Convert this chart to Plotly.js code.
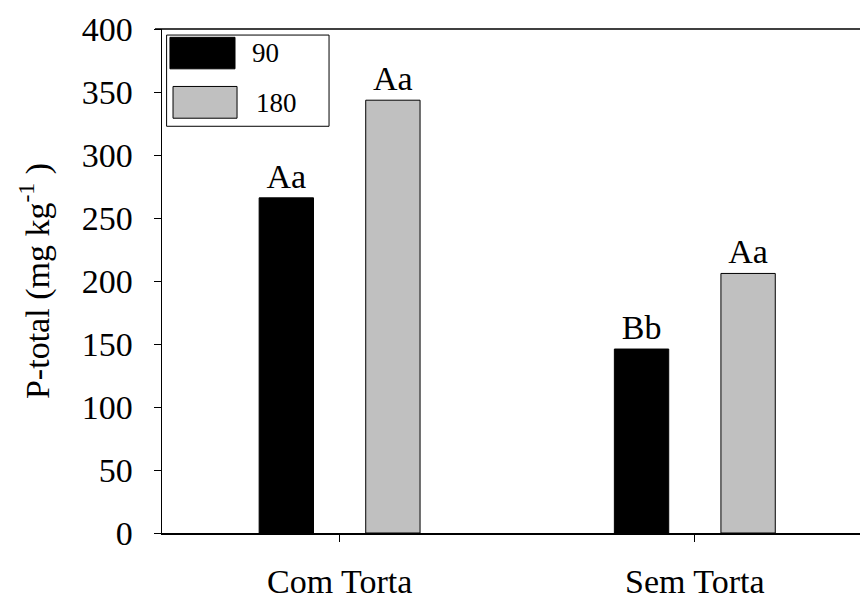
<!DOCTYPE html>
<html><head><meta charset="utf-8">
<script src="https://cdn.plot.ly/plotly-3.0.1.min.js"></script>
<style>html,body{margin:0;padding:0;background:#fff;overflow:hidden}#chart{width:860px;height:595px}</style>
</head><body><div id="chart"></div>
<script>
const categories = ["Com Torta", "Sem Torta"];
const seriesNames = ["90", "180"];
const values90 = [266, 146];
const values180 = [343.5, 206];
const letters90 = ["Aa", "Bb"];
const letters180 = ["Aa", "Aa"];
const yTicks = [0, 50, 100, 150, 200, 250, 300, 350, 400];

const FONT = "Liberation Serif, Times New Roman, serif";
const barCommon = {
  type: "bar", x: categories, textposition: "outside", constraintext: "none",
  cliponaxis: false, textfont: {family: FONT, size: 34, color: "#000"},
  showlegend: false, hoverinfo: "none"
};
const traces = [
  Object.assign({}, barCommon, {name: seriesNames[0], y: values90, text: letters90,
    marker: {color: "#000000", line: {color: "#000", width: 1}}}),
  Object.assign({}, barCommon, {name: seriesNames[1], y: values180, text: letters180,
    marker: {color: "#c0c0c0", line: {color: "#000", width: 1}}})
];

const layout = {
  width: 860, height: 595,
  margin: {l: 162, r: 0, t: 28.5, b: 62.3, pad: 0},
  paper_bgcolor: "#fff", plot_bgcolor: "#fff",
  font: {family: FONT, color: "#000", size: 34},
  barmode: "group", bargap: 0.4, bargroupgap: 0.49,
  xaxis: {
    type: "category", range: [-0.5, 1.465], showgrid: false, zeroline: false,
    showline: true, mirror: false, linecolor: "#000", linewidth: 1.5,
    ticks: "outside", ticklen: 7, tickwidth: 1, tickcolor: "#000",
    tickfont: {family: FONT, size: 34, color: "#000"}, ticklabelstandoff: 11
  },
  yaxis: {
    range: [0, 400], tickvals: yTicks, showgrid: false, zeroline: false,
    showline: true, linecolor: "#000", linewidth: 1.5,
    ticks: "outside", ticklen: 7, tickwidth: 1, tickcolor: "#000",
    tickfont: {family: FONT, size: 34, color: "#000"}, ticklabelstandoff: 14,
    title: {text: "P-total (mg kg<sup>-1</sup> )", font: {family: FONT, size: 34, color: "#000"}, standoff: 22}
  },
  shapes: [
    {type: "line", xref: "paper", yref: "paper", x0: 1, x1: 1, y0: 0.004, y1: 0.996, layer: "above",
      line: {color: "#fff", width: 4}},
    {type: "line", xref: "paper", yref: "paper", x0: -0.01, x1: 1.01, y0: 1, y1: 1,
      line: {color: "#000", width: 1.5}},
    {type: "rect", xref: "paper", yref: "paper", x0: 0.0066, x1: 0.2393, y0: 0.807, y1: 0.988,
      line: {color: "#000", width: 1}, fillcolor: "rgba(0,0,0,0)"},
    {type: "rect", xref: "paper", yref: "paper", x0: 0.0114, x1: 0.1046, y0: 0.921, y1: 0.9835,
      line: {color: "#000", width: 1}, fillcolor: "#000"},
    {type: "rect", xref: "paper", yref: "paper", x0: 0.0158, x1: 0.1075, y0: 0.823, y1: 0.886,
      line: {color: "#000", width: 1}, fillcolor: "#c0c0c0"}
  ],
  annotations: [
    {xref: "paper", yref: "paper", x: 0.1261, y: 0.952, xanchor: "left", yanchor: "middle",
      text: seriesNames[0], showarrow: false, font: {family: FONT, size: 27, color: "#000"}},
    {xref: "paper", yref: "paper", x: 0.1318, y: 0.853, xanchor: "left", yanchor: "middle",
      text: seriesNames[1], showarrow: false, font: {family: FONT, size: 27, color: "#000"}}
  ]
};
Plotly.newPlot("chart", traces, layout, {displayModeBar: false, staticPlot: true});
</script></body></html>
